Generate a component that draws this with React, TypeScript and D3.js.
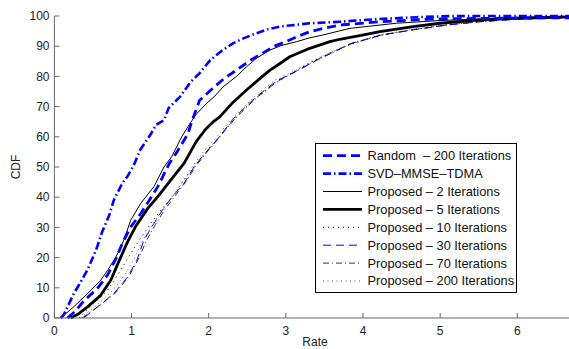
import React from "react";
import * as d3 from "d3";

type Pt = [number, number];

// Empirical CDF curves of the achieved rate
const randomIter200: Pt[] = [[0.17,0],[0.28,2.5],[0.38,5.6],[0.56,9.9],[0.69,14.3],[0.8,19.8],[0.88,24.7],[0.99,30.2],[1.12,34.6],[1.23,39],[1.34,43.5],[1.49,51.2],[1.59,55],[1.73,61],[1.78,65],[1.88,72],[2.05,76],[2.2,79.3],[2.4,82.8],[2.55,85.5],[2.7,87.7],[2.85,90],[3.0,91.5],[3.15,93.2],[3.31,94.8],[3.5,96],[3.7,97],[4.22,98.1],[4.87,99],[5.51,99.2],[6.1,99.3],[6.67,99.4]];
const svdMmseTdma: Pt[] = [[0.08,0],[0.12,1],[0.25,8],[0.32,11],[0.43,16],[0.54,22.5],[0.62,28.6],[0.71,34],[0.77,39],[0.88,44.6],[0.95,47],[1.03,50.7],[1.11,55.6],[1.24,60.5],[1.32,64],[1.42,65.5],[1.48,69.5],[1.63,73.3],[1.76,78],[1.88,81],[2.02,85.4],[2.17,88.5],[2.32,91],[2.45,92.6],[2.62,94.3],[2.77,95.6],[2.92,96.5],[3.31,97.6],[3.7,98.1],[4.2,99],[4.7,99.6],[5.16,100],[6.67,100]];
const proposed2: Pt[] = [[0.08,0],[0.25,3.7],[0.43,8.1],[0.6,12.5],[0.69,15.8],[0.8,20.3],[0.9,25.8],[0.99,32.4],[1.12,38],[1.29,43.5],[1.42,50],[1.52,53.4],[1.65,60],[1.76,64.5],[1.84,67.5],[1.97,71],[2.08,73.5],[2.19,76.6],[2.36,80],[2.49,83.2],[2.62,86],[2.79,88.7],[2.95,90.3],[3.14,91.5],[3.3,92.7],[3.48,93.7],[3.7,95.1],[3.83,95.9],[4.43,97.6],[5.0,98.5],[5.51,99],[6.0,99.5],[6.67,99.8]];
const proposed5: Pt[] = [[0.21,0],[0.32,1.5],[0.43,3.7],[0.6,7.5],[0.73,12.5],[0.84,19],[0.95,25.3],[1.05,30.2],[1.21,36.3],[1.34,40.2],[1.51,45.7],[1.68,51.2],[1.84,58.5],[1.96,62.5],[2.06,65],[2.14,66.5],[2.3,71],[2.49,75.5],[2.65,79],[2.79,82],[2.92,84.2],[3.05,86.5],[3.31,89.3],[3.57,91.5],[3.7,92.3],[3.99,93.7],[4.22,94.8],[4.65,96.5],[5.0,97.6],[5.51,98.7],[6.0,99.3],[6.67,99.7]];
const proposed10: Pt[] = [[0.32,0],[0.51,4.8],[0.69,9.2],[0.86,15.9],[0.99,21.4],[1.1,25.8],[1.25,31.3],[1.38,35.7],[1.53,40.2],[1.68,45.7],[1.85,51.5],[2.05,57.5],[2.25,63.5],[2.45,69],[2.62,73],[2.85,77.5],[3.1,81.5],[3.35,85],[3.57,87.8],[3.83,90.5],[4.22,93.5],[4.65,95.5],[5.08,97],[5.51,98.2],[6.0,99],[6.67,99.6]];
const proposed30: Pt[] = [[0.38,0],[0.56,3.7],[0.77,8.1],[0.95,13.6],[1.07,19.2],[1.16,25.8],[1.29,31.3],[1.4,35.7],[1.53,40.2],[1.68,44.6],[1.81,50],[1.95,54.5],[2.14,60],[2.32,66],[2.5,70.5],[2.62,73.3],[2.88,78.5],[3.14,81.8],[3.4,85.4],[3.57,87.5],[3.83,90.8],[4.22,93.6],[4.65,95.4],[5.08,97],[5.51,98.1],[6.0,98.9],[6.67,99.4]];
const proposed70: Pt[] = [[0.36,0],[0.58,4],[0.8,8.5],[0.97,14],[1.09,19.5],[1.19,25.5],[1.31,31],[1.42,35.5],[1.55,40],[1.7,45],[1.83,50.2],[1.98,55],[2.16,60.5],[2.34,66],[2.52,70.5],[2.65,73.5],[2.9,78.5],[3.16,82],[3.42,85.6],[3.6,87.8],[3.85,90.8],[4.25,93.8],[4.65,95.5],[5.08,97],[5.51,98.1],[6.0,99],[6.67,99.5]];
const proposed200: Pt[] = [[0.34,0],[0.55,4.2],[0.75,9],[0.92,14.5],[1.04,20],[1.14,25.5],[1.27,31],[1.39,35.5],[1.52,40],[1.66,45],[1.8,50.5],[1.93,55],[2.12,60.5],[2.3,66],[2.48,70.5],[2.6,73.5],[2.86,78.8],[3.12,82],[3.38,85.6],[3.57,87.8],[3.83,90.8],[4.22,93.8],[4.65,95.6],[5.08,97.1],[5.51,98.2],[6.0,99],[6.67,99.5]];

const xTicks = [0, 1, 2, 3, 4, 5, 6];
const yTicks = [0, 10, 20, 30, 40, 50, 60, 70, 80, 90, 100];

const seriesNames = [
  "Random  \u2013 200 Iterations",
  "SVD\u2013MMSE\u2013TDMA",
  "Proposed \u2013 2 Iterations",
  "Proposed \u2013 5 Iterations",
  "Proposed \u2013 10 Iterations",
  "Proposed \u2013 30 Iterations",
  "Proposed \u2013 70 Iterations",
  "Proposed \u2013 200 Iterations",
];
const seriesData = [randomIter200, svdMmseTdma, proposed2, proposed5, proposed10, proposed30, proposed70, proposed200];

const styles = [
  { stroke: "#0000ff", width: 2.8, dash: "9,5" },
  { stroke: "#0000ff", width: 2.6, dash: "8,3,1.5,3" },
  { stroke: "#000000", width: 1, dash: "" },
  { stroke: "#000000", width: 2.8, dash: "" },
  { stroke: "#000000", width: 1, dash: "1,4" },
  { stroke: "#0000ff", width: 1, dash: "8,5" },
  { stroke: "#333333", width: 1, dash: "6,3,1,3" },
  { stroke: "#555555", width: 1, dash: "1,3.5" },
];

const W = 569;
const H = 349;
const FONT = "'Liberation Sans', Arial, Helvetica, sans-serif";

export default function App() {
  const x = d3.scaleLinear().domain([0, 6.67]).range([54.4, 569]);
  const y = d3.scaleLinear().domain([0, 100]).range([318, 16]);
  const line = d3.line<Pt>().x((d) => x(d[0])).y((d) => y(d[1]));

  const legX = 315.5;
  const legY = 143.5;
  const rowH = 17.9;

  // lighter curves first so the heavy ones stay on top
  const drawOrder = [7, 6, 5, 4, 2, 3, 0, 1];

  return (
    <svg width={W} height={H} style={{ position: "absolute", left: 0, top: 0, background: "#fff" }} fontFamily={FONT}>
      <rect x={0} y={0} width={W} height={H} fill="#fff" />
      {drawOrder.map((i) => (
        <path
          key={i}
          d={line(seriesData[i]) || ""}
          fill="none"
          stroke={styles[i].stroke}
          strokeWidth={styles[i].width}
          strokeDasharray={styles[i].dash || undefined}
          strokeLinejoin="round"
        />
      ))}

      {/* axes */}
      <line x1={x(0)} x2={x(0)} y1={y(0)} y2={y(100)} stroke="#666" strokeWidth={1} />
      <line x1={x(0)} x2={W} y1={y(0)} y2={y(0)} stroke="#666" strokeWidth={1} />
      {yTicks.map((t) => (
        <g key={"y" + t}>
          <line x1={x(0)} x2={x(0) + 5} y1={y(t)} y2={y(t)} stroke="#666" strokeWidth={1} />
          <text x={49.5} y={y(t)} dy="0.35em" textAnchor="end" fontSize={12} fill="#222">
            {t}
          </text>
        </g>
      ))}
      {xTicks.map((t) => (
        <g key={"x" + t}>
          <line x1={x(t)} x2={x(t)} y1={y(0)} y2={y(0) - 5} stroke="#666" strokeWidth={1} />
          <text x={x(t)} y={334.5} textAnchor="middle" fontSize={12} fill="#222">
            {t}
          </text>
        </g>
      ))}
      <text x={315} y={345.5} textAnchor="middle" fontSize={12} fill="#222">
        Rate
      </text>
      <text transform="translate(20,167) rotate(-90)" textAnchor="middle" fontSize={12} fill="#222">
        CDF
      </text>

      {/* legend */}
      <rect x={legX} y={legY} width={201} height={149} fill="#fff" stroke="#000" strokeWidth={1} />
      {seriesNames.map((name, i) => {
        const cy = 155.7 + rowH * i;
        return (
          <g key={name}>
            <line
              x1={323}
              x2={362}
              y1={cy}
              y2={cy}
              stroke={styles[i].stroke}
              strokeWidth={styles[i].width}
              strokeDasharray={styles[i].dash || undefined}
            />
            <text x={367.5} y={cy} dy="0.35em" fontSize={12.8} fill="#111" style={{ whiteSpace: "pre" }}>
              {name}
            </text>
          </g>
        );
      })}
    </svg>
  );
}
